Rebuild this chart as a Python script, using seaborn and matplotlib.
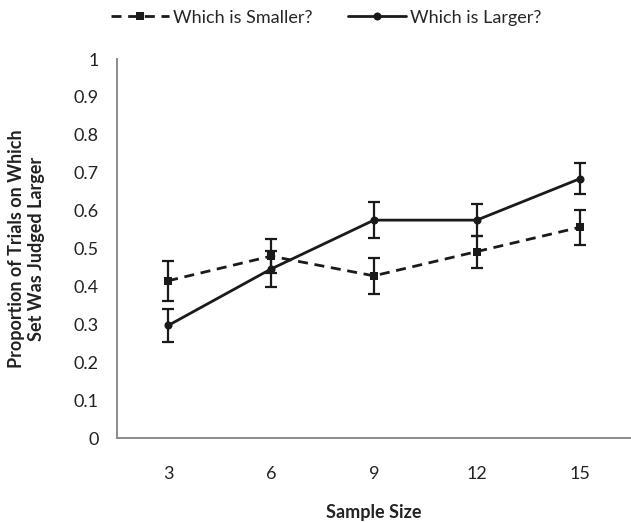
import numpy as np
import pandas as pd
import matplotlib
matplotlib.use("Agg")
import matplotlib.pyplot as plt
import seaborn as sns

# Data
sample_sizes = [3, 6, 9, 12, 15]
smaller_mean = [0.415, 0.480, 0.428, 0.492, 0.556]
smaller_err = [0.053, 0.045, 0.047, 0.042, 0.047]
larger_mean = [0.297, 0.446, 0.575, 0.575, 0.684]
larger_err = [0.044, 0.048, 0.047, 0.042, 0.041]

series_names = ["Which is Smaller?", "Which is Larger?"]

sns.set_style("white")
plt.rcParams['font.family'] = ['Lato', 'DejaVu Sans']

pos = np.arange(len(sample_sizes))
df = pd.DataFrame({
    'pos': np.concatenate([pos, pos]),
    'value': smaller_mean + larger_mean,
    'err': smaller_err + larger_err,
    'task': [series_names[0]] * len(pos) + [series_names[1]] * len(pos),
})

fig = plt.figure(figsize=(6.31, 5.23), dpi=100)
ax = fig.add_axes([0.185, 0.1625, 0.815, 0.7245])

gray = "#8c8c8c"
ink = "#1a1a1a"
fs = 13

# error bars first so lines sit on top
for name, grp in df.groupby('task', sort=False):
    ax.errorbar(grp['pos'], grp['value'], yerr=grp['err'], fmt='none',
                ecolor=ink, elinewidth=1.6, capsize=4.2, capthick=1.6, zorder=2)

sns.lineplot(data=df, x='pos', y='value', style='task', hue='task',
             palette=[ink, ink], style_order=series_names, hue_order=series_names,
             dashes={series_names[0]: (3.6, 2.4), series_names[1]: ""},
             markers={series_names[0]: 's', series_names[1]: 'o'},
             markersize=5.8, linewidth=2.0, markeredgewidth=0,
             ax=ax, zorder=3, legend=True)

ax.set_xlim(-0.5, len(sample_sizes) - 0.5)
ax.set_ylim(0, 1)
ax.set_xticks(pos)
ax.set_xticklabels([str(s) for s in sample_sizes])
ax.set_xticks(np.arange(-0.5, len(sample_sizes), 1.0), minor=True)
ax.tick_params(axis='x', which='major', length=0, pad=20, labelsize=fs, labelcolor="#222222")
ax.tick_params(axis='x', which='minor', length=5, width=1.2, color=gray, direction='out')
ax.set_yticks(np.arange(0, 1.01, 0.1))
ax.set_yticklabels(['0'] + [f"{v:.1f}" for v in np.arange(0.1, 0.95, 0.1)] + ['1'])
ax.tick_params(axis='y', length=6, width=1.2, color=gray, direction='out', pad=7,
               labelsize=fs, labelcolor="#222222")

for side in ['top', 'right']:
    ax.spines[side].set_visible(False)
for side in ['left', 'bottom']:
    ax.spines[side].set_color(gray)
    ax.spines[side].set_linewidth(1.4)

ax.set_xlabel("Sample Size", fontsize=fs, fontweight='bold', color="#222222")
ax.xaxis.set_label_coords(0.5, -0.175)
ax.set_ylabel("Proportion of Trials on Which\nSet Was Judged Larger", fontsize=fs,
              fontweight='bold', color="#222222", linespacing=1.2)
ax.yaxis.set_label_coords(-0.14, 0.5)

handles, labels = ax.get_legend_handles_labels()
ax.legend(handles, labels, loc='center', bbox_to_anchor=(0.517, 0.966),
          bbox_transform=fig.transFigure, ncol=2, frameon=False, fontsize=fs,
          handlelength=3.2, columnspacing=2.0, handletextpad=0.2)

fig.savefig("out.png", dpi=100)
